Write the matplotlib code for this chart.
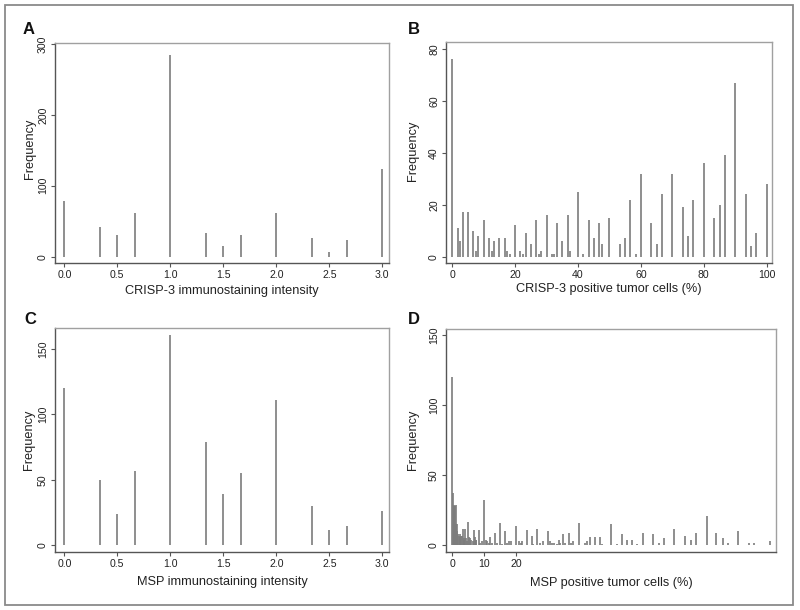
import matplotlib
matplotlib.use("Agg")
import matplotlib.pyplot as plt
from matplotlib.patches import Rectangle

plt.rcParams['font.family'] = ['Liberation Sans', 'DejaVu Sans']

# ---- Data ----
a_x = [0, 1/3, 0.5, 2/3, 1, 4/3, 1.5, 5/3, 2, 7/3, 2.5, 8/3, 3]
a_y = [79, 42, 31, 61, 284, 33, 15, 31, 61, 27, 6, 23, 124]

b_x = [0, 5/3, 2.5, 10/3, 5, 20/3, 7.5, 25/3, 10, 35/3, 12.5, 40/3, 15, 50/3, 17.5, 55/3,
       20, 65/3, 22.5, 70/3, 25, 80/3, 27.5, 85/3, 30, 95/3, 32.5, 100/3, 35, 110/3, 37.5,
       40, 125/3, 130/3, 45, 140/3, 47.5, 50, 160/3, 55, 170/3, 175/3, 60, 190/3, 65, 200/3,
       70, 220/3, 75, 230/3, 80, 250/3, 85, 260/3, 90, 280/3, 95, 290/3, 100]
b_y = [76, 11, 6, 17, 17, 10, 2, 8, 14, 7, 2, 6, 7, 7, 2, 1,
       12, 2, 1, 9, 5, 14, 1, 2, 16, 1, 1, 13, 6, 16, 2,
       25, 1, 14, 7, 13, 5, 15, 5, 7, 22, 1, 32, 13, 5, 24,
       32, 19, 8, 22, 36, 15, 20, 39, 67, 24, 4, 9, 28]

c_x = [0, 1/3, 0.5, 2/3, 1, 4/3, 1.5, 5/3, 2, 7/3, 2.5, 8/3, 3]
c_y = [120, 50, 24, 57, 161, 79, 39, 55, 111, 30, 12, 15, 26]

d_x = [0, 0.33, 0.5, 0.67, 0.83, 1.0, 1.17, 1.33, 1.5, 1.67, 2.0, 2.33, 2.5, 2.67, 3.0,
       3.33, 3.5, 3.67, 4.0, 4.33, 4.67, 5.0, 5.33, 5.67, 6.0, 6.33, 6.67, 7.0, 7.33, 7.5,
       8.33, 8.67, 9.17,
       10, 10.6, 11, 11.4, 11.8, 12.5, 13.3, 13.9, 15, 15.6, 16.6, 17.3, 17.7, 18.3,
       20, 20.8, 21.5, 21.9, 23.4, 25, 25.4, 26.7, 27.5, 28.4, 30, 30.7, 31.3, 31.9, 32.8,
       33.4, 33.8, 34.9, 35.3, 36.5, 37.2, 38, 39.9, 41.6, 42.4, 43.2, 44.9, 46.4, 47,
       50, 51.6, 53.3, 55, 56.6, 58.1, 59.8, 63.1, 64.8, 66.5, 69.8, 73.2, 74.9, 76.5,
       79.9, 83, 84.9, 86.6, 89.7, 93.1, 94.8, 99.8]
d_y = [120, 37, 29, 28, 28, 29, 15, 15, 10, 8, 7, 8, 6, 7, 7,
       12, 4, 5, 12, 5, 3, 17, 6, 5, 4, 3, 11, 6, 4, 4,
       11, 2, 3,
       32, 4, 3, 2, 6, 2, 9, 2, 16, 1, 10, 2, 3, 3,
       14, 3, 2, 3, 11, 7, 1, 12, 2, 3, 10, 3, 2, 2, 1,
       4, 2, 8, 2, 9, 2, 3, 16, 2, 3, 6, 6, 6, 1,
       15, 1, 8, 4, 4, 1, 9, 8, 2, 5, 12, 7, 4, 9,
       21, 9, 5, 2, 10, 2, 2, 3]

a_ticks = [0.0, 0.5, 1.0, 1.5, 2.0, 2.5, 3.0]
a_ytick = [0, 100, 200, 300]
b_ticks = [0, 20, 40, 60, 80, 100]
b_ytick = [0, 20, 40, 60, 80]
c_ytick = [0, 50, 100, 150]
d_ticks = [0, 10, 20]
d_ytick = [0, 50, 100, 150]

W, H = 800, 610
fig = plt.figure(figsize=(W/100, H/100), dpi=100)
fig.patch.set_facecolor('white')

# outer frame
fig.add_artist(Rectangle((5/W, 5/H), 788/W, 600/H, transform=fig.transFigure,
                         fill=False, edgecolor='#8a8a8a', linewidth=1.3))

def px_axes(l, t, r, b):
    return fig.add_axes([l/W, (H-b)/H, (r-l)/W, (b-t)/H])

spike_col = '#7c7c7c'

def style(ax, xt, yt, xl, xlim, ylim, xlab_y, ylab_x, ylab_y=0.5, xfmt=None):
    for s in ['left', 'bottom']:
        ax.spines[s].set_color('#555555')
        ax.spines[s].set_linewidth(1.0)
    for s in ['top', 'right']:
        ax.spines[s].set_color('#a0a0a0')
        ax.spines[s].set_linewidth(1.0)
    ax.set_xlim(*xlim)
    ax.set_ylim(*ylim)
    ax.set_xticks(xt)
    if xfmt:
        ax.set_xticklabels([xfmt.format(v) for v in xt])
    ax.set_yticks(yt)
    ax.tick_params(direction='out', length=3, width=0.8, colors='#555555',
                   labelcolor='#222222', labelsize=7.6, pad=2)
    ax.tick_params(axis='y', labelrotation=90)
    for t in ax.get_yticklabels():
        t.set_va('center')
    ax.set_xlabel(xl, fontsize=9.2, color='#222222', va='center')
    ax.set_ylabel('Frequency', fontsize=9.2, color='#222222', va='center')
    ax.xaxis.set_label_coords(0.5, xlab_y)
    ax.yaxis.set_label_coords(ylab_x, ylab_y)

# Panel A
axA = px_axes(55, 43, 389, 263)
axA.vlines(a_x, 0, a_y, color=spike_col, linewidth=1.2)
style(axA, a_ticks, a_ytick, 'CRISP-3 immunostaining intensity',
      (-0.088, 3.063), (-8.9, 301.4), -0.127, -0.075, 0.52, '{:.1f}')

# Panel B
axB = px_axes(446, 42, 772, 263)
axB.vlines(b_x, 0, b_y, color=spike_col, linewidth=1.2)
style(axB, b_ticks, b_ytick, 'CRISP-3 positive tumor cells (%)',
      (-2.0, 101.7), (-2.43, 82.6), -0.118, -0.101, 0.507)

# Panel C
axC = px_axes(55, 328, 389, 552)
axC.vlines(c_x, 0, c_y, color=spike_col, linewidth=1.2)
style(axC, a_ticks, c_ytick, 'MSP immunostaining intensity',
      (-0.088, 3.063), (-5.1, 166), -0.134, -0.078, 0.5, '{:.1f}')

# Panel D
axD = px_axes(446, 329, 776, 552)
axD.vlines(d_x, 0, d_y, color=spike_col, linewidth=1.2)
style(axD, d_ticks, d_ytick, 'MSP positive tumor cells (%)',
      (-2.0, 101.7), (-4.7, 154.2), -0.139, -0.1, 0.505)

# panel letters
for lbl, x, y in [('A', 23, 30), ('B', 408, 30), ('C', 24, 320), ('D', 408, 320)]:
    fig.text(x/W, 1 - y/H, lbl, fontsize=12, fontweight='bold', va='center', ha='left',
             color='#111111')

fig.savefig('out.png', dpi=100, facecolor='white')
